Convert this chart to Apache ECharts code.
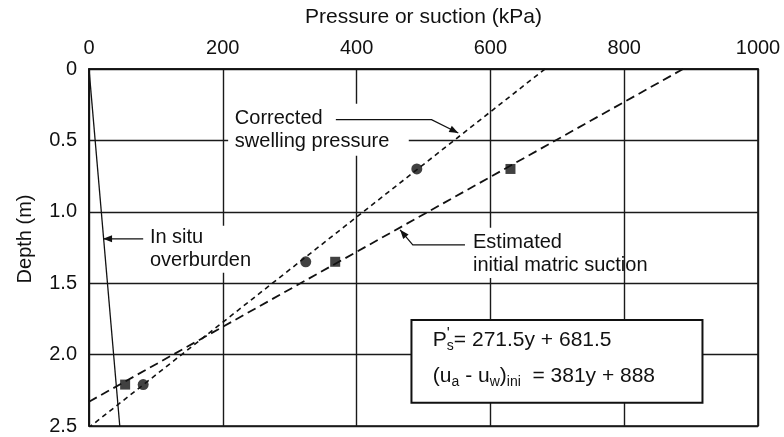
<!DOCTYPE html>
<html>
<head>
<meta charset="utf-8">
<script src="https://cdn.jsdelivr.net/npm/echarts@6/dist/echarts.min.js"></script>
<style>
  html, body { margin: 0; padding: 0; background: #fff; }
  #chart { width: 784px; height: 437px; }
</style>
</head>
<body>
<div id="chart"></div>
<script>
// Axis ticks
const pressureTicks = [0, 200, 400, 600, 800, 1000];   // kPa
const depthTicks = [0, 0.5, 1.0, 1.5, 2.0, 2.5];        // m

// Lines: [pressure (kPa), depth (m)]
const overburden = [[0, 0], [46, 2.5]];
const swellingFit = [[681.5, 0], [0, 2.51]];
const suctionFit = [[888, 0], [0, 2.33]];

// Measured points
const swellingPoints = [[490, 0.70], [324, 1.35], [81, 2.21]];
const suctionPoints = [[630, 0.70], [368, 1.35], [54, 2.21]];

const FONT = '"Liberation Sans", Arial, Helvetica, sans-serif';
const INK = '#111';

const chart = echarts.init(document.getElementById('chart'), null, { renderer: 'canvas' });

const option = {
  animation: false,
  backgroundColor: '#fff',
  grid: {
    left: 89, top: 69, width: 669, height: 357,
    show: true, borderColor: INK, borderWidth: 1.6, backgroundColor: 'transparent'
  },
  xAxis: {
    type: 'value',
    position: 'top',
    min: pressureTicks[0],
    max: pressureTicks[pressureTicks.length - 1],
    interval: pressureTicks[1] - pressureTicks[0],
    name: 'Pressure or suction (kPa)',
    nameLocation: 'middle',
    nameGap: 41,
    nameTextStyle: { fontFamily: FONT, fontSize: 21, color: INK },
    axisLine: { show: true, lineStyle: { color: INK, width: 1.6 } },
    axisTick: { show: false },
    axisLabel: { margin: 11, fontFamily: FONT, fontSize: 20, color: INK, formatter: v => String(v) },
    splitLine: { show: true, lineStyle: { color: '#1a1a1a', width: 1.4 } }
  },
  yAxis: {
    type: 'value',
    inverse: true,
    min: depthTicks[0],
    max: depthTicks[depthTicks.length - 1],
    interval: depthTicks[1] - depthTicks[0],
    axisLine: { show: true, lineStyle: { color: INK, width: 1.6 } },
    axisTick: { show: false },
    axisLabel: {
      margin: 12, fontFamily: FONT, fontSize: 20, color: INK,
      formatter: v => (v === 0 ? '0' : v.toFixed(1))
    },
    splitLine: { show: true, lineStyle: { color: '#1a1a1a', width: 1.4 } }
  },
  series: [
    {
      name: 'In situ overburden', type: 'line', data: overburden,
      showSymbol: false, lineStyle: { color: INK, width: 1.3, type: 'solid' }, z: 3
    },
    {
      name: 'Corrected swelling pressure', type: 'line', data: swellingFit,
      showSymbol: false, lineStyle: { color: INK, width: 1.6, type: [5, 4] }, z: 3
    },
    {
      name: 'Estimated initial matric suction', type: 'line', data: suctionFit,
      showSymbol: false, lineStyle: { color: INK, width: 1.8, type: [9, 5] }, z: 3
    },
    {
      name: 'Swelling pressure', type: 'scatter', data: swellingPoints,
      symbol: 'circle', symbolSize: 11, itemStyle: { color: INK }, z: 4
    },
    {
      name: 'Matric suction', type: 'scatter', data: suctionPoints,
      symbol: 'rect', symbolSize: 10, itemStyle: { color: INK }, z: 4
    }
  ]
};

chart.setOption(option);

// ---- annotations, placed in data coordinates ----
const px = p => chart.convertToPixel({ gridIndex: 0 }, p);

function mask(x0, y0, x1, y1) {
  const a = px([x0, y0]), b = px([x1, y1]);
  return { type: 'rect', z: 10, shape: { x: a[0], y: a[1], width: b[0] - a[0], height: b[1] - a[1] },
           style: { fill: '#fff' } };
}

function note(text, x, y) {
  const p = px([x, y]);
  return { type: 'text', z: 11, x: p[0], y: p[1],
           style: { text, fontFamily: FONT, fontSize: 20, fill: INK, lineHeight: 23,
                    align: 'left', verticalAlign: 'middle' } };
}

function leader(points) {
  const pts = points.map(px);
  const n = pts.length;
  const [x1, y1] = pts[n - 2], [x2, y2] = pts[n - 1];
  const a = Math.atan2(y2 - y1, x2 - x1);
  const L = 9, W = 3.5;
  const bx = x2 - L * Math.cos(a), by = y2 - L * Math.sin(a);
  const head = [[x2, y2],
                [bx - W * Math.sin(a), by + W * Math.cos(a)],
                [bx + W * Math.sin(a), by - W * Math.cos(a)]];
  return [
    { type: 'polyline', z: 12, shape: { points: pts }, style: { stroke: INK, lineWidth: 1.2, fill: null } },
    { type: 'polygon', z: 12, shape: { points: head }, style: { fill: INK } }
  ];
}

const boxA = px([482, 1.757]), boxB = px([917, 2.338]);
const eq1 = px([514, 1.897]), eq2 = px([514, 2.154]);
const eqRich = {
  m: { fontFamily: FONT, fontSize: 21, lineHeight: 26 },
  s: { fontFamily: FONT, fontSize: 14, lineHeight: 12, verticalAlign: 'bottom' },
  pr: { fontFamily: FONT, fontSize: 16, lineHeight: 13, verticalAlign: 'top', width: 0 }
};

const graphics = [
  mask(208, 0.243, 478, 0.608),
  mask(84, 1.098, 241, 1.427),
  mask(566, 1.112, 704, 1.463),
  note('Corrected\nswelling pressure', 218, 0.425),
  note('In situ\noverburden', 91, 1.259),
  note('Estimated\ninitial matric suction', 574, 1.294),
  ...leader([[369, 0.355], [512, 0.355], [552, 0.448]]),
  ...leader([[81, 1.189], [21, 1.189]]),
  ...leader([[562, 1.231], [484, 1.231], [465, 1.126]]),
  { type: 'rect', z: 10,
    shape: { x: boxA[0], y: boxA[1], width: boxB[0] - boxA[0], height: boxB[1] - boxA[1] },
    style: { fill: '#fff', stroke: INK, lineWidth: 2 } },
  { type: 'text', z: 11, x: eq1[0], y: eq1[1],
    style: { text: "{m|P}{pr|'}{s|s}{m|= 271.5y + 681.5}", rich: eqRich, fill: INK,
             align: 'left', verticalAlign: 'middle' } },
  { type: 'text', z: 11, x: eq2[0], y: eq2[1],
    style: { text: '{m|(u}{s|a}{m| - u}{s|w}{m|)}{s|ini}{m|  = 381y + 888}', rich: eqRich, fill: INK,
             align: 'left', verticalAlign: 'middle' } },
  // vertical axis title beside the depth scale
  (() => {
    const p = px([0, 1.19]);
    return { type: 'text', z: 11, x: p[0] - 64, y: p[1], rotation: Math.PI / 2,
             style: { text: 'Depth (m)', fontFamily: FONT, fontSize: 20, fill: INK,
                      align: 'center', verticalAlign: 'middle' } };
  })()
];

chart.setOption({ graphic: graphics });
</script>
</body>
</html>
